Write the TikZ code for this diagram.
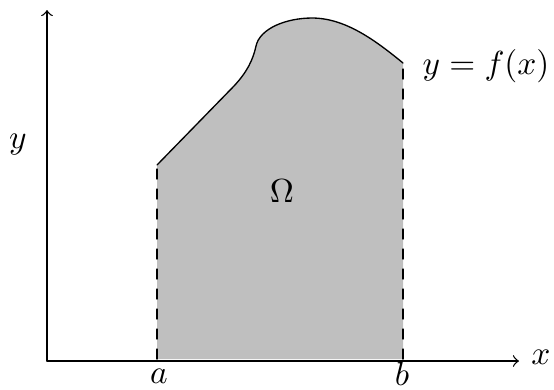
\documentclass[tikz,border=0pt]{standalone}
\begin{document}
\begin{tikzpicture}[x=0.3pt, y=-0.3pt, line cap=round, line join=round]
\useasboundingbox (0,0) rectangle (554,389);

\coordinate (O) at (47,361);
\coordinate (X) at (519,361);
\coordinate (Y) at (47,10);

\coordinate (A) at (157,359);
\coordinate (B) at (403,359);
\coordinate (P) at (157,165);
\coordinate (Q) at (403,63);

\fill[black!25] (A) -- (P) -- (234,86)
  .. controls (247,72) and (253,60) .. (256,46)
  .. controls (260,28) and (287,18) .. (312,18)
  .. controls (345,18) and (375,40) .. (Q) -- (B) -- cycle;

\draw (P) -- (234,86)
  .. controls (247,72) and (253,60) .. (256,46)
  .. controls (260,28) and (287,18) .. (312,18)
  .. controls (345,18) and (375,40) .. (Q);

\draw[dashed] (A) -- (P);
\draw[dashed] (B) -- (Q);

\draw[->] (O) -- (X);
\draw[->] (O) -- (Y);

\node (xl) at (541,357) {$x$};
\node (yl) at (18,145) {$y$};
\node (al) at (159,376) {$a$};
\node (bl) at (402,374) {$b$};
\node (om) at (282,191) {$\Omega$};
\node (fl) at (486,66) {$y=f(x)$};
\end{tikzpicture}
\end{document}
